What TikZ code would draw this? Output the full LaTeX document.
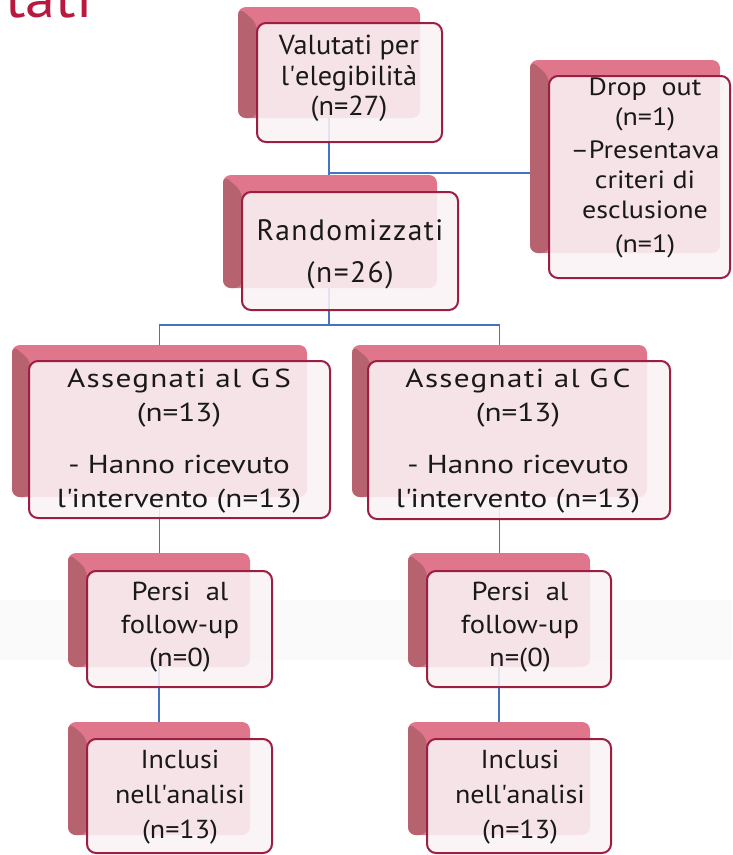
\documentclass[tikz,border=0pt]{standalone}
\usepackage{fontspec}
\setmainfont{PT Sans}
\usetikzlibrary{calc}
\definecolor{shadowpink}{HTML}{DF768B}
\definecolor{shadowdark}{HTML}{B6636F}
\definecolor{frontfill}{HTML}{F9F3F6}
\definecolor{frontline}{HTML}{9C1E40}
\definecolor{connblue}{HTML}{4472C4}
\definecolor{titlered}{HTML}{B9183F}
\newcommand\aq{\textquotesingle}
\begin{document}
\begin{tikzpicture}[x=1pt,y=-1pt,
  shadowbox/.style={rounded corners=8pt, fill=shadowpink, inner sep=0pt, outer sep=0pt,
    path picture={\fill[shadowdark] (path picture bounding box.north west) -- ++(19,16)
      -- ($(path picture bounding box.south west)+(19,0)$) -- (path picture bounding box.south west) -- cycle;}},
  frontbox/.style={rounded corners=9pt, draw=frontline, line width=2pt, fill=frontfill,
    fill opacity=0.88, inner sep=0pt, outer sep=0pt},
  conn/.style={draw=connblue, line width=1.8pt},
  txt/.style={align=center, inner sep=0pt, text=black!90}
]
\useasboundingbox (0,0) rectangle (732,855);
% faint background band
\fill[black!2] (0,600) rectangle (732,660);
% title fragment
\node[anchor=base west, text=titlered, font=\fontsize{56}{60}\selectfont\addfontfeature{FakeStretch=1.08}, inner sep=0pt] (title) at (5,17) {tati};
% shadow boxes (the nodes that the connectors join)
\node[shadowbox, minimum width=182pt, minimum height=111pt] (s1) at (329,62.5) {};
\node[shadowbox, minimum width=190pt, minimum height=193pt] (sd) at (625,156.5) {};
\node[shadowbox, minimum width=214pt, minimum height=113pt] (s2) at (330,231.5) {};
\node[shadowbox, minimum width=295pt, minimum height=152pt] (s3) at (159.5,421) {};
\node[shadowbox, minimum width=295pt, minimum height=152pt] (s4) at (499.5,421) {};
\node[shadowbox, minimum width=182pt, minimum height=114pt] (s5) at (159,610) {};
\node[shadowbox, minimum width=182pt, minimum height=114pt] (s6) at (499,610) {};
\node[shadowbox, minimum width=182pt, minimum height=113pt] (s7) at (159,778.5) {};
\node[shadowbox, minimum width=182pt, minimum height=113pt] (s8) at (499,778.5) {};
% connectors
\coordinate (j1) at (329,173);
\coordinate (j2) at (329,325);
\draw[conn] (s1.south) -- (j1) -- (j1 -| sd.west);
\draw[conn] (j1) -- (j1 |- s2.north);
\draw[conn] (j2 |- s2.south) -- (j2);
\draw[conn] (s3.north) |- (j2) -| (s4.north);
\draw[conn] (s3.south) -- (s3.south |- s5.north);
\draw[conn] (s4.south) -- (s4.south |- s6.north);
\draw[conn] (s5.south) -- (s7.north);
\draw[conn] (s6.south) -- (s8.north);
% front boxes
\node[frontbox, minimum width=185pt, minimum height=119pt] (f1) at (349.5,82.5) {};
\node[frontbox, minimum width=181pt, minimum height=202pt] (fd) at (639.5,177) {};
\node[frontbox, minimum width=216pt, minimum height=118pt] (f2) at (350,251) {};
\node[frontbox, minimum width=301pt, minimum height=157pt] (f3) at (179.5,439.5) {};
\node[frontbox, minimum width=302pt, minimum height=158pt] (f4) at (519,440) {};
\node[frontbox, minimum width=185pt, minimum height=116pt] (f5) at (179.5,629) {};
\node[frontbox, minimum width=184pt, minimum height=116pt] (f6) at (519,629) {};
\node[frontbox, minimum width=185pt, minimum height=114pt] (f7) at (179.5,796) {};
\node[frontbox, minimum width=184pt, minimum height=114pt] (f8) at (519,796) {};
% texts
\node[txt, font=\fontsize{27.5}{30.5}\selectfont\addfontfeature{FakeStretch=1.03}] (t1) at (349,78.5) {Valutati per\\l\aq elegibilità\\(n=27)};
\node[txt, font=\fontsize{25}{30}\selectfont\addfontfeature{FakeStretch=1.12}] (td) at (645,168) {Drop\ \ out\\(n=1)\\[3pt]–Presentava\\criteri di\\esclusione\\[4pt](n=1)};
\node[txt, font=\fontsize{29.5}{42}\selectfont\addfontfeature{LetterSpace=5}] (t2) at (350,254) {Randomizzati\\(n=26)};
\node[txt, font=\fontsize{26}{34}\selectfont\addfontfeature{FakeStretch=1.2}] (t3) at (179,441) {{\addfontfeature{LetterSpace=5}Assegnati al G\,S}\\(n=13)\\[18pt]- Hanno ricevuto\\l\aq intervento (n=13)};
\node[txt, font=\fontsize{26}{34}\selectfont\addfontfeature{FakeStretch=1.2}] (t4) at (518,441) {{\addfontfeature{LetterSpace=5}Assegnati al G\,C}\\(n=13)\\[18pt]- Hanno ricevuto\\l\aq intervento (n=13)};
\node[txt, font=\fontsize{26}{33}\selectfont\addfontfeature{FakeStretch=1.1}] (t5) at (180,627) {Persi\ \ al\\follow-up\\(n=0)};
\node[txt, font=\fontsize{26}{33}\selectfont\addfontfeature{FakeStretch=1.1}] (t6) at (520,627) {Persi\ \ al\\follow-up\\n=(0)};
\node[txt, font=\fontsize{26}{35}\selectfont\addfontfeature{FakeStretch=1.08}] (t7) at (180,797) {Inclusi\\nell\aq analisi\\(n=13)};
\node[txt, font=\fontsize{26}{35}\selectfont\addfontfeature{FakeStretch=1.08}] (t8) at (520,797) {Inclusi\\nell\aq analisi\\(n=13)};
\end{tikzpicture}
\end{document}
